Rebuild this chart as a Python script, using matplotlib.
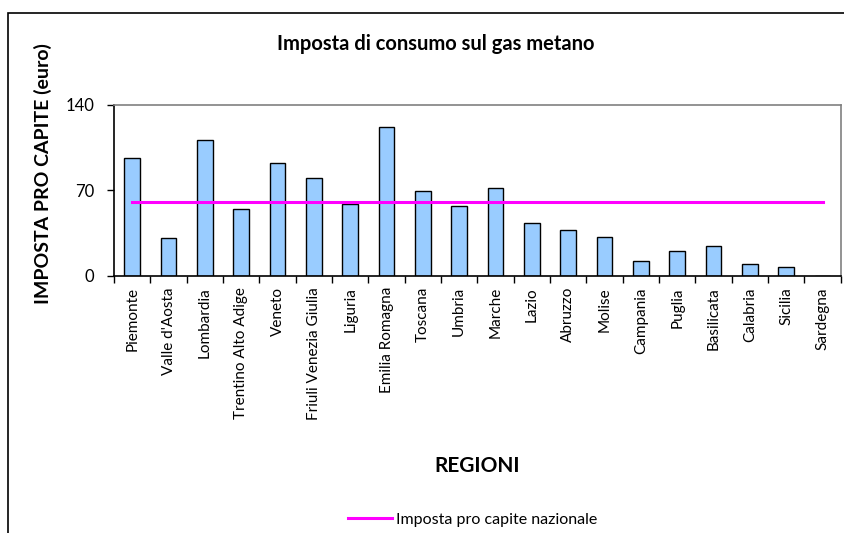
import matplotlib.pyplot as plt
from matplotlib.patches import Rectangle
import numpy as np

regioni = ["Piemonte", "Valle d'Aosta", "Lombardia", "Trentino Alto Adige", "Veneto",
           "Friuli Venezia Giulia", "Liguria", "Emilia Romagna", "Toscana", "Umbria",
           "Marche", "Lazio", "Abruzzo", "Molise", "Campania", "Puglia", "Basilicata",
           "Calabria", "Sicilia", "Sardegna"]
imposta = [96.2, 30.8, 110.9, 54.8, 92.1, 80.4, 58.6, 121.5, 69.5, 57.5,
           72.2, 43.0, 37.6, 32.2, 12.5, 20.1, 24.2, 9.5, 7.1, 0.0]
nazionale = 60.2
y_ticks = [0, 70, 140]

plt.rcParams['font.family'] = ['Lato', 'DejaVu Sans']

W, H = 844, 533
fig = plt.figure(figsize=(W / 100, H / 100), dpi=100)

# chart area border (Excel style)
fig.patches.append(Rectangle((8 / W, -0.1), 1.2, 1.1 - 13 / H, transform=fig.transFigure,
                             fill=False, edgecolor='black', linewidth=1.2))

ax = fig.add_axes([114 / W, 1 - 276 / H, (840.7 - 114) / W, (276 - 104.7) / H])
x = np.arange(len(regioni))
ax.bar(x, imposta, width=0.43, color='#99CCFF', edgecolor='black', linewidth=1.0, zorder=2)
ax.plot(x, [nazionale] * len(x), color='#FF00FF', linewidth=2.2, zorder=3,
        label='Imposta pro capite nazionale')

ax.set_xlim(-0.5, len(regioni) - 0.5)
ax.set_ylim(0, 140)
ax.set_yticks(y_ticks)
ax.set_yticklabels([str(v) for v in y_ticks], fontsize=12)
ax.set_xticks(x)
ax.set_xticklabels(regioni, rotation=90, fontsize=11)
ax.set_xticks(np.arange(-0.5, len(regioni)), minor=True)
ax.tick_params(axis='x', which='major', length=0, pad=8)
ax.tick_params(axis='x', which='minor', length=5, direction='out', width=1)
ax.tick_params(axis='y', length=5, direction='out', width=1, pad=9)

for side in ['top', 'right']:
    ax.spines[side].set_color('#808080')
    ax.spines[side].set_linewidth(1.2)
for side in ['left', 'bottom']:
    ax.spines[side].set_color('black')
    ax.spines[side].set_linewidth(1.2)

fig.text(436 / W, 1 - 44 / H, 'Imposta di consumo sul gas metano', ha='center', va='center',
         fontsize=14.5, fontweight='bold')
fig.text(43 / W, 1 - 174 / H, 'IMPOSTA PRO CAPITE (euro)', ha='center', va='center',
         rotation=90, fontsize=14, fontweight='bold')
fig.text(477 / W, 1 - 466 / H, 'REGIONI', ha='center', va='center',
         fontsize=15, fontweight='bold')

fig.legend(loc='center left', bbox_to_anchor=(334 / W, 1 - 520 / H), frameon=False,
           fontsize=11.5, handlelength=2.75, handletextpad=0.25)

fig.savefig('out.png', dpi=100)
